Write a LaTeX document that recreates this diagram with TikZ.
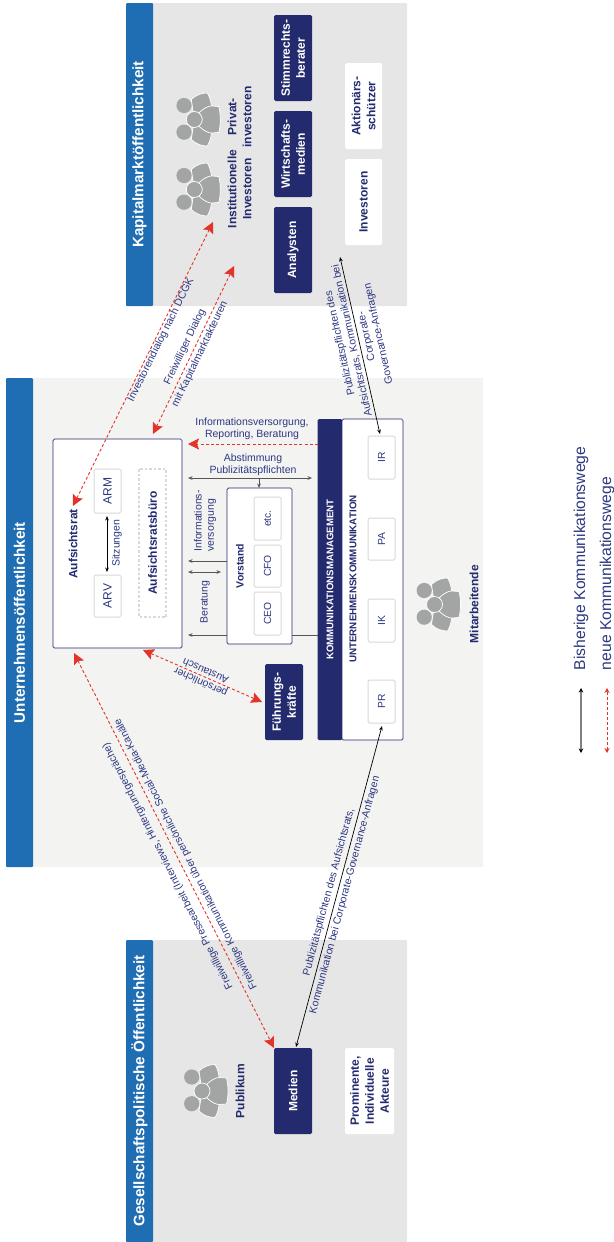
\documentclass[tikz,border=0pt]{standalone}
\usepackage{fontspec}
\setmainfont{Liberation Sans}
\usetikzlibrary{arrows.meta}
\definecolor{navy}{HTML}{232B6E}
\definecolor{txtnavy}{HTML}{2D3880}
\definecolor{bandblue}{HTML}{1F6EB3}
\definecolor{bggrey}{HTML}{E6E6E6}
\definecolor{bglight}{HTML}{F3F3F2}
\definecolor{iconG}{HTML}{A3A4A4}
\definecolor{redarrow}{HTML}{E3342A}
\definecolor{softline}{HTML}{D8D8D8}
\definecolor{greyline}{HTML}{555555}
\tikzset{
  x=1pt,y=-1pt,
  every node/.style={inner sep=0pt,outer sep=0pt},
  band/.style={fill=bandblue,rounded corners=1pt,text=white,rotate=90,font=\fontsize{15.2}{18}\selectfont\bfseries,minimum height=27pt},
  navybox/.style={fill=navy,rounded corners=1.5pt,text=white,rotate=90,align=center,font=\fontsize{12}{15}\selectfont\bfseries},
  whitebox/.style={fill=white,rounded corners=1.5pt,text=navy,rotate=90,align=center,font=\fontsize{12}{15}\selectfont\bfseries},
  framebox/.style={fill=white,draw=navy,line width=0.7pt,rounded corners=1.5pt},
  smallbox/.style={fill=white,draw=softline,line width=1pt,rounded corners=1.5pt,rotate=90,text=txtnavy,minimum width=42pt,minimum height=27pt,font=\fontsize{10.3}{12}\selectfont},
  lab/.style={text=txtnavy,align=center,font=\fontsize{10.5}{12.3}\selectfont},
  vlab/.style={lab,rotate=90},
  blab/.style={text=navy,align=center,rotate=90,font=\fontsize{12}{15}\selectfont\bfseries},
  blackarrow/.style={black,line width=0.7pt,{Stealth[length=4.5pt,width=3.6pt]}-{Stealth[length=4.5pt,width=3.6pt]}},
  greydbl/.style={greyline,line width=0.8pt,{Stealth[length=4.5pt,width=3.6pt]}-{Stealth[length=4.5pt,width=3.6pt]}},
  greytip/.style={greyline,line width=0.8pt,-{Stealth[length=4.5pt,width=3.6pt]}},
  reddbl/.style={redarrow,line width=0.9pt,dash pattern=on 3pt off 2.2pt,{Stealth[length=11pt,width=11pt,inset=2pt]}-{Stealth[length=11pt,width=11pt,inset=2pt]}},
  redtip/.style={redarrow,line width=0.9pt,dash pattern=on 3pt off 2.2pt,-{Stealth[length=11pt,width=11pt,inset=2pt]}},
  people/.pic={
    \path[fill=iconG,draw=white,line width=0.7pt] (-3,-20) .. controls (2,-25) and (8,-26.5) .. (13,-26.5) .. controls (16,-22) and (17.5,-15) .. (17.5,-8) -- (0,0) -- cycle;
    \path[fill=iconG,draw=white,line width=0.7pt] (-3,20) .. controls (2,25) and (8,26.5) .. (13,26.5) .. controls (16,22) and (17.5,15) .. (17.5,8) -- (0,0) -- cycle;
    \path[fill=iconG,draw=white,line width=0.7pt] (5,-7) .. controls (9,-11) and (14,-13.5) .. (17,-13.5) -- (24.5,-13) .. controls (26.5,-5) and (26.5,5) .. (24.5,13) -- (17,13.5) .. controls (14,13.5) and (9,11) .. (5,7) -- cycle;
    \path[fill=iconG] (-10.3,-14) circle (7.6);
    \path[fill=iconG] (-10.3,12.7) circle (7.6);
    \path[fill=iconG,draw=white,line width=0.7pt] (0,0) circle (8);
  },
}
\begin{document}
\begin{tikzpicture}
\useasboundingbox (0,0) rectangle (613,1242);
% backgrounds
\node[fill=bglight,minimum width=450pt,minimum height=489pt,anchor=north west] (bgU) at (33,378) {};
\node[fill=bggrey,rounded corners=1pt,minimum width=254pt,minimum height=303pt,anchor=north west] (bgK) at (153,3) {};
\node[fill=bggrey,rounded corners=1pt,minimum width=254pt,minimum height=302pt,anchor=north west] (bgG) at (153,940) {};
\node[band,minimum width=489pt] (bandU) at (19.5,622.5) {Unternehmensöffentlichkeit};
\node[band,minimum width=303pt] (bandK) at (139.5,154.5) {Kapitalmarktöffentlichkeit};
\node[band,minimum width=302pt] (bandG) at (139.5,1091) {Gesellschaftspolitische Öffentlichkeit};
% coordinates
\coordinate (invA) at (73,506); \coordinate (invB) at (213,222);
\coordinate (dlgA) at (153,434); \coordinate (dlgB) at (234,266);
\coordinate (infoA) at (318,444); \coordinate (infoB) at (188,444);
\coordinate (absA) at (188,478); \coordinate (absB) at (312,478); \coordinate (absC) at (259,478);
\coordinate (ivA) at (227,561); \coordinate (ivB) at (188,561);
\coordinate (berA) at (188,572); \coordinate (berB) at (221,572);
\coordinate (botA) at (318,635); \coordinate (botB) at (188,635);
\coordinate (sitA) at (107,516); \coordinate (sitB) at (107,572);
\coordinate (perA) at (143,650); \coordinate (perB) at (262,702);
\coordinate (medA) at (74,653); \coordinate (medB) at (274,1048);
\coordinate (prA) at (382,726); \coordinate (prB) at (296,1047);
\coordinate (irA) at (380,434); \coordinate (irB) at (340,257);
\coordinate (absD) at (259,488);
\coordinate (legA1) at (581,753); \coordinate (legA2) at (581,688);
\coordinate (legB1) at (607,753); \coordinate (legB2) at (607,688);
\draw[greytip] (botA) -- (botB);
% Aufsichtsrat
\node[framebox,minimum width=129pt,minimum height=209pt,anchor=north west] (ar) at (53,439) {};
\node[text=navy,rotate=90,font=\fontsize{11.9}{14}\selectfont\bfseries] (arT) at (73,544) {Aufsichtsrat};
\node[smallbox,font=\fontsize{12}{14}\selectfont,minimum width=44pt] (arm) at (107.5,491) {ARM};
\node[smallbox,font=\fontsize{12}{14}\selectfont,minimum width=42pt] (arv) at (107.5,596) {ARV};
\node[vlab] (sitz) at (117,543) {Sitzungen};
\node[draw=softline,dash pattern=on 2.5pt off 2pt,line width=1.3pt,rotate=90,minimum width=148pt,minimum height=27pt,text=navy,font=\fontsize{12}{14}\selectfont\bfseries] (buero) at (152.5,543) {Aufsichtsratsbüro};
% Vorstand
\node[framebox,minimum width=65pt,minimum height=156pt,anchor=north west] (vs) at (227,488) {};
\node[text=navy,rotate=90,font=\fontsize{10.4}{12}\selectfont\bfseries] (vsT) at (240,566) {Vorstand};
\node[smallbox,minimum width=43pt] (etc) at (267.5,518.5) {etc.};
\node[smallbox] (cfo) at (267.5,566) {CFO};
\node[smallbox,minimum width=43pt] (ceo) at (267.5,613.5) {CEO};
% Kommunikation
\node[fill=navy,rounded corners=1.5pt,minimum width=321pt,minimum height=25pt,rotate=90,text=white,font=\fontsize{9.65}{12}\selectfont\bfseries] (km) at (330,579.5) {KOMMUNIKATIONSMANAGEMENT};
\node[framebox,minimum width=61pt,minimum height=321pt,anchor=north west] (uk) at (342,419) {};
\node[text=navy,rotate=90,font=\fontsize{9.8}{12}\selectfont\bfseries] (ukT) at (353,579) {UNTERNEHMENSKOMMUNIKATION};
\node[smallbox,minimum width=43pt] (ir) at (381.5,457.5) {IR};
\node[smallbox] (pa) at (381.5,539) {PA};
\node[smallbox,minimum width=43pt] (ik) at (381.5,620.5) {IK};
\node[smallbox,minimum width=43pt] (pr) at (381.5,701.5) {PR};
\node[navybox,minimum width=76pt,minimum height=38pt] (fk) at (284,702) {Führungs-\\kräfte};
% Capital market
\node[navybox,minimum width=86pt,minimum height=38pt] (stimm) at (293,58) {Stimmrechts-\\berater};
\node[navybox,minimum width=86pt,minimum height=38pt] (wirt) at (293,154) {Wirtschafts-\\medien};
\node[navybox,minimum width=86pt,minimum height=38pt] (ana) at (293,250) {Analysten};
\node[whitebox,minimum width=86pt,minimum height=37pt] (akt) at (363.5,106) {Aktionärs-\\schützer};
\node[whitebox,minimum width=86pt,minimum height=37pt] (inv) at (363.5,202) {Investoren};
\pic at (194.3,119.5) {people};
\pic at (194.3,189.5) {people};
\node[blab] (priv) at (239.5,117) {Privat-\\investoren};
\node[blab] (inst) at (239.5,189) {Institutionelle\\Investoren};
% Public
\node[navybox,minimum width=86pt,minimum height=38pt] (med) at (293,1091) {Medien};
\node[whitebox,minimum width=86pt,minimum height=49pt] (prom) at (369.5,1091) {Prominente,\\Individuelle\\Akteure};
\pic at (202,1091) {people};
\node[blab] (pub) at (240,1091) {Publikum};
% staff
\pic at (434.5,604.5) {people};
\node[blab] (mit) at (474,604) {Mitarbeitende};
% connectors
\draw[reddbl] (invA) -- (invB);
\draw[reddbl] (dlgB) -- (dlgA);
\draw[redtip] (infoA) -- (infoB);
\draw[greydbl] (absA) -- (absB);
\draw[greytip] (absC) -- (absD);
\draw[greytip] (ivA) -- (ivB);
\draw[greydbl] (berA) -- (berB);
\draw[blackarrow] (sitA) -- (sitB);
\draw[reddbl] (perA) -- (perB);
\draw[reddbl] (medA) -- (medB);
\draw[blackarrow] (prA) -- (prB);
\draw[blackarrow] (irA) -- (irB);
% labels
\node[lab] (l1) at (252,429) {Informationsversorgung,\\Reporting, Beratung};
\node[lab] (l2) at (253,464.5) {Abstimmung\\Publizitätspflichten};
\node[vlab,align=left] (l3) at (205,521) {Informations-\\versorgung};
\node[vlab] (l4) at (205,602) {Beratung};
\node[lab,rotate=63.6] (l5) at (161,340) {Investorendialog nach DCGK};
\node[lab,rotate=64.5] (l6) at (185,347) {Freiwilliger Dialog};
\node[lab,rotate=64.5] (l7) at (200,354) {mit Kapitalmarktakteuren};
\node[lab,rotate=102.5] (l8) at (346,342) {Publizitätspflichten des\\Aufsichtsrats, Kommunikation bei};
\node[lab,rotate=102.5] (l9) at (373,335) {Corporate-\\Governance-Anfragen};
\node[lab,rotate=156] (l10) at (203,677) {persönlicher\\Austausch};
\node[lab,rotate=117] (l11) at (168,866) {Freiwillige Pressearbeit (Interviews, Hintergrundgespräche)};
\node[lab,rotate=117] (l12) at (186,854) {Freiwillige Kommunikation über persönliche Social-Media-Kanäle};
\node[lab,rotate=75] (l13) at (329,892) {Publizitätspflichten des Aufsichtsrats,};
\node[lab,rotate=75] (l14) at (345,895) {Kommunikation bei Corporate-Governance-Anfragen};
% legend
\draw[line width=1.4pt,color=gray,{Stealth[length=4.5pt,width=4.5pt,color=black]}-{Stealth[length=4.5pt,width=4.5pt,color=black]}] (legA1) -- (legA2);
\draw[redarrow,line width=0.9pt,dash pattern=on 3pt off 2pt,{Stealth[length=5pt,width=5pt]}-{Stealth[length=5pt,width=5pt]}] (legB1) -- (legB2);
\node[rotate=90,anchor=west,text=txtnavy,font=\fontsize{15.7}{18}\selectfont] (leg1) at (581,670) {Bisherige Kommunikationswege};
\node[rotate=90,anchor=west,text=txtnavy,font=\fontsize{15.7}{18}\selectfont] (leg2) at (607,670) {neue Kommunikationswege};
\end{tikzpicture}
\end{document}
